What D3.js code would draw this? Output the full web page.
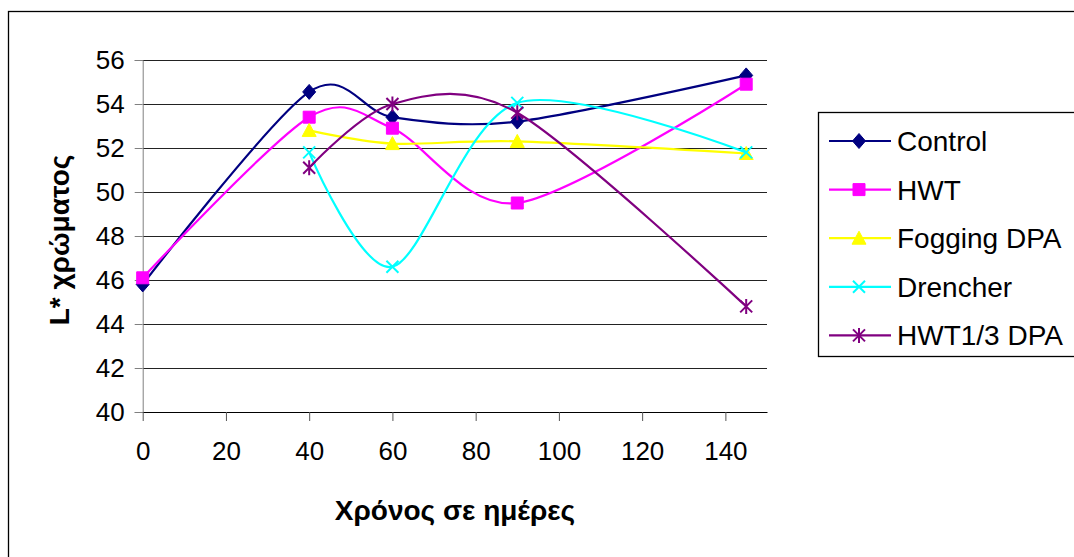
<!DOCTYPE html>
<html><head><meta charset="utf-8">
<script src="https://cdn.jsdelivr.net/npm/d3@7"></script>
<style>body{margin:0;background:#fff}svg{display:block}text{font-family:"Liberation Sans",Arial,sans-serif}</style>
</head><body>
<svg id="c" width="1074" height="557"></svg>
<script>
const days = [0, 40, 60, 90, 145];
const seriesNames = ["Control", "HWT", "Fogging DPA", "Drencher", "HWT1/3 DPA"];
const control = [45.8, 54.55, 53.4, 53.2, 55.3];
const hwt = [46.1, 53.4, 52.9, 49.5, 54.9];
const fogging = [null, 52.8, 52.2, 52.3, 51.75];
const drencher = [null, 51.8, 46.6, 54.05, 51.8];
const hwt13 = [null, 51.1, 54.0, 53.6, 44.8];
const xTicks = [0, 20, 40, 60, 80, 100, 120, 140];
const yTicks = [40, 42, 44, 46, 48, 50, 52, 54, 56];
const xTitle = "Χρόνος σε ημέρες";
const yTitle = "L* χρώματος";

const colors = ["#000080", "#FF00FF", "#FFFF00", "#00FFFF", "#800080"];
const markers = ["diamond", "square", "triangle", "x", "star"];
const values = [control, hwt, fogging, drencher, hwt13];

const svg = d3.select("#c");
const x = d3.scaleLinear().domain([0, 150]).range([142.7, 767]);
const y = d3.scaleLinear().domain([40, 56]).range([412, 60]);

// outer border
svg.append("rect").attr("x", 8.5).attr("y", 11.5).attr("width", 1100).attr("height", 600)
  .attr("fill", "none").attr("stroke", "#000").attr("stroke-width", 1.3);

// gridlines
svg.append("g").selectAll("line").data(yTicks.filter(d => d > 40)).join("line")
  .attr("x1", x(0)).attr("x2", x(150)).attr("y1", d => y(d)).attr("y2", d => y(d))
  .attr("stroke", "#222").attr("stroke-width", 1).attr("shape-rendering", "crispEdges");

// y axis
const ya = svg.append("g").attr("transform", `translate(${x(0)},0)`)
  .call(d3.axisLeft(y).tickValues(yTicks).tickSize(8).tickPadding(10));
ya.select(".domain").attr("stroke", "#808080");
ya.selectAll(".tick line").attr("stroke", "#808080");
ya.selectAll("text").attr("font-size", 26).attr("fill", "#000").attr("font-family", "Liberation Sans, Arial");

// x axis
const xa = svg.append("g").attr("transform", `translate(0,${y(40)})`)
  .call(d3.axisBottom(x).tickValues(xTicks).tickSize(9).tickPadding(21).tickSizeOuter(0));
xa.select(".domain").attr("stroke", "#000");
xa.selectAll(".tick line").attr("stroke", "#555");
xa.selectAll("text").attr("font-size", 26).attr("fill", "#000").attr("font-family", "Liberation Sans, Arial");

// titles
svg.append("text").attr("x", 455).attr("y", 520).attr("text-anchor", "middle")
  .attr("font-size", 28).attr("font-weight", "bold").text(xTitle);
svg.append("text").attr("transform", "translate(69,240) rotate(-90)").attr("text-anchor", "middle")
  .attr("font-size", 28).attr("font-weight", "bold").text(yTitle);

function markerPath(type) {
  const p = d3.path();
  if (type === "diamond") { p.moveTo(0,-7.5); p.lineTo(6.5,0); p.lineTo(0,7.5); p.lineTo(-6.5,0); p.closePath(); }
  else if (type === "square") { p.rect(-6,-6,12,12); }
  else if (type === "triangle") { p.moveTo(0,-7); p.lineTo(7,6); p.lineTo(-7,6); p.closePath(); }
  else if (type === "x") { p.moveTo(-6,-6); p.lineTo(6,6); p.moveTo(6,-6); p.lineTo(-6,6); }
  else if (type === "star") { p.moveTo(-6,-6); p.lineTo(6,6); p.moveTo(6,-6); p.lineTo(-6,6); p.moveTo(0,-7.5); p.lineTo(0,7.5); }
  return p.toString();
}
function drawMarker(g, type, color, cx, cy) {
  const filled = type === "diamond" || type === "square" || type === "triangle";
  g.append("path").attr("d", markerPath(type)).attr("transform", `translate(${cx},${cy})`)
    .attr("fill", filled ? color : "none").attr("stroke", color).attr("stroke-width", filled ? 1 : 2);
}

const line = d3.line().defined(d => d[1] != null).x(d => x(d[0])).y(d => y(d[1]))
  .curve(d3.curveCardinal.tension(0.1));

values.forEach((vals, i) => {
  const pts = days.map((d, j) => [d, vals[j]]).filter(p => p[1] != null);
  const g = svg.append("g");
  g.append("path").attr("d", line(pts)).attr("fill", "none").attr("stroke", colors[i]).attr("stroke-width", 2.2);
  pts.forEach(p => drawMarker(g, markers[i], colors[i], x(p[0]), y(p[1])));
});

// legend
svg.append("rect").attr("x", 818.5).attr("y", 112.5).attr("width", 300).attr("height", 244)
  .attr("fill", "#fff").attr("stroke", "#000").attr("stroke-width", 1.3);
seriesNames.forEach((n, i) => {
  const ly = 141 + i * 48.6;
  const g = svg.append("g");
  g.append("line").attr("x1", 829).attr("x2", 891).attr("y1", ly).attr("y2", ly)
    .attr("stroke", colors[i]).attr("stroke-width", 2.2);
  drawMarker(g, markers[i], colors[i], 859, ly);
  g.append("text").attr("x", 897).attr("y", ly).attr("dy", "0.36em").attr("font-size", 28).text(n);
});
</script>
</body></html>
